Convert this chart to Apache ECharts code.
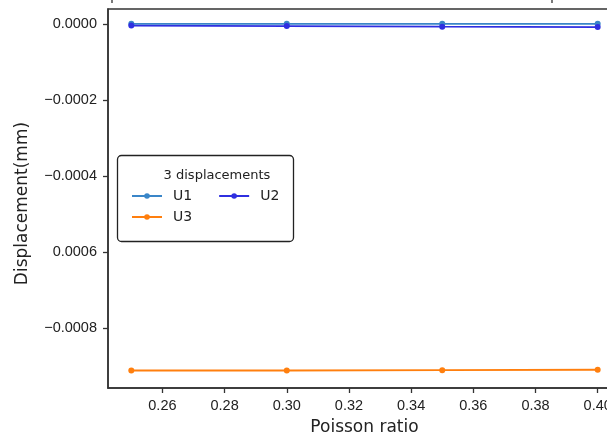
<!DOCTYPE html>
<html>
<head>
<meta charset="utf-8">
<script src="https://cdn.jsdelivr.net/npm/echarts@6/dist/echarts.min.js"></script>
<style>
  html, body { margin: 0; padding: 0; background: #fff; }
  #main { width: 607px; height: 437px; }
</style>
</head>
<body>
<div id="main"></div>
<script>
// 数据
const poisson = [0.25, 0.30, 0.35, 0.40];
const u1 = [0.0000005, 0.0000005, 0.0000005, 0.0000005];
const u2 = [-0.000004, -0.0000055, -0.000007, -0.000008];
const u3 = [-0.000912, -0.000912, -0.000911, -0.00091];

const xTicks = [0.26, 0.28, 0.30, 0.32, 0.34, 0.36, 0.38, 0.40];
const yTicks = [0, -0.0002, -0.0004, -0.0006, -0.0008];
const yTickLabels = ['0.0000', '\u22120.0002', '\u22120.0004', '0.0006', '\u22120.0008'];

const X_MIN = 0.2425, X_MAX = 0.4075;
const Y_MIN = -0.000958, Y_MAX = 0.0000395;

const FONT = 'DejaVu Sans';
const TICK_FONT = 'Liberation Sans';
const AXIS = '#333';

function pairs(ys) {
  return poisson.map((x, i) => [x, ys[i]]);
}

function yLabel(v) {
  for (let i = 0; i < yTicks.length; i++) {
    if (Math.abs(yTicks[i] - v) < 1e-9) return yTickLabels[i];
  }
  return '';
}

const chart = echarts.init(document.getElementById('main'));

const lineSeries = (name, data, color) => ({
  name,
  type: 'line',
  data: pairs(data),
  symbol: 'circle',
  symbolSize: 6,
  showSymbol: true,
  color,
  lineStyle: { color, width: 1.8 },
  itemStyle: { color },
  animation: false,
});

chart.setOption({
  animation: false,
  grid: {
    left: 108, right: -14, top: 9, bottom: 49,
    show: true, borderColor: AXIS, borderWidth: 1.5,
    outerBoundsMode: 'none',
  },
  xAxis: {
    type: 'value',
    min: X_MIN,
    max: X_MAX,
    name: 'Poisson ratio',
    nameLocation: 'middle',
    nameGap: 31,
    nameTextStyle: { fontFamily: FONT, fontSize: 17, color: '#222' },
    axisLine: { onZero: false, lineStyle: { color: AXIS, width: 1.5 } },
    axisTick: { show: true, length: 5, lineStyle: { color: AXIS, width: 1.3 }, customValues: xTicks },
    axisLabel: {
      customValues: xTicks,
      formatter: v => v.toFixed(2),
      fontFamily: TICK_FONT, fontSize: 14.5, color: '#222', margin: 7, padding: [3, 0, 0, 0],
    },
    splitLine: { show: false },
  },
  yAxis: {
    type: 'value',
    min: Y_MIN,
    max: Y_MAX,
    name: 'Displacement(mm)',
    nameLocation: 'middle',
    nameGap: 77,
    nameTextStyle: { fontFamily: FONT, fontSize: 17, color: '#222', padding: [0, 10, 0, 0] },
    axisLine: { show: true, lineStyle: { color: AXIS, width: 1.5 } },
    axisTick: { show: true, length: 5, lineStyle: { color: AXIS, width: 1.3 }, customValues: yTicks },
    axisLabel: {
      customValues: yTicks,
      formatter: yLabel,
      fontFamily: TICK_FONT, fontSize: 14.5, color: '#222', margin: 6, padding: [0, 5, 0, 0],
    },
    splitLine: { show: false },
  },
  legend: {
    data: ['U1', 'U2', 'U3'],
    left: 131,
    top: 189,
    width: 170,
    orient: 'horizontal',
    padding: 0,
    itemWidth: 30,
    itemHeight: 7,
    itemGap: 7,
    textStyle: { fontFamily: FONT, fontSize: 14, color: '#222', lineHeight: 14, padding: [0, 19, 0, 6] },
  },
  graphic: [
    {
      type: 'rect',
      shape: { x: 117.5, y: 155.5, width: 176, height: 86, r: 4 },
      style: { fill: '#fff', stroke: '#222', lineWidth: 1.3 },
      z: 1,
    },
    {
      type: 'text',
      x: 217, y: 176,
      style: { text: '3 displacements', fontFamily: FONT, fontSize: 13, fill: '#222', align: 'center', verticalAlign: 'middle' },
      z: 2,
    },
    // 上方子图残留的刻度
    { type: 'line', shape: { x1: 112, y1: 0, x2: 112, y2: 3 }, style: { stroke: AXIS, lineWidth: 1.3 } },
    { type: 'line', shape: { x1: 552, y1: 0, x2: 552, y2: 3 }, style: { stroke: AXIS, lineWidth: 1.3 } },
  ],
  series: [
    lineSeries('U1', u1, '#3a86c8'),
    lineSeries('U2', u2, '#2f2fe0'),
    lineSeries('U3', u3, '#ff7f0e'),
  ],
});
</script>
</body>
</html>
